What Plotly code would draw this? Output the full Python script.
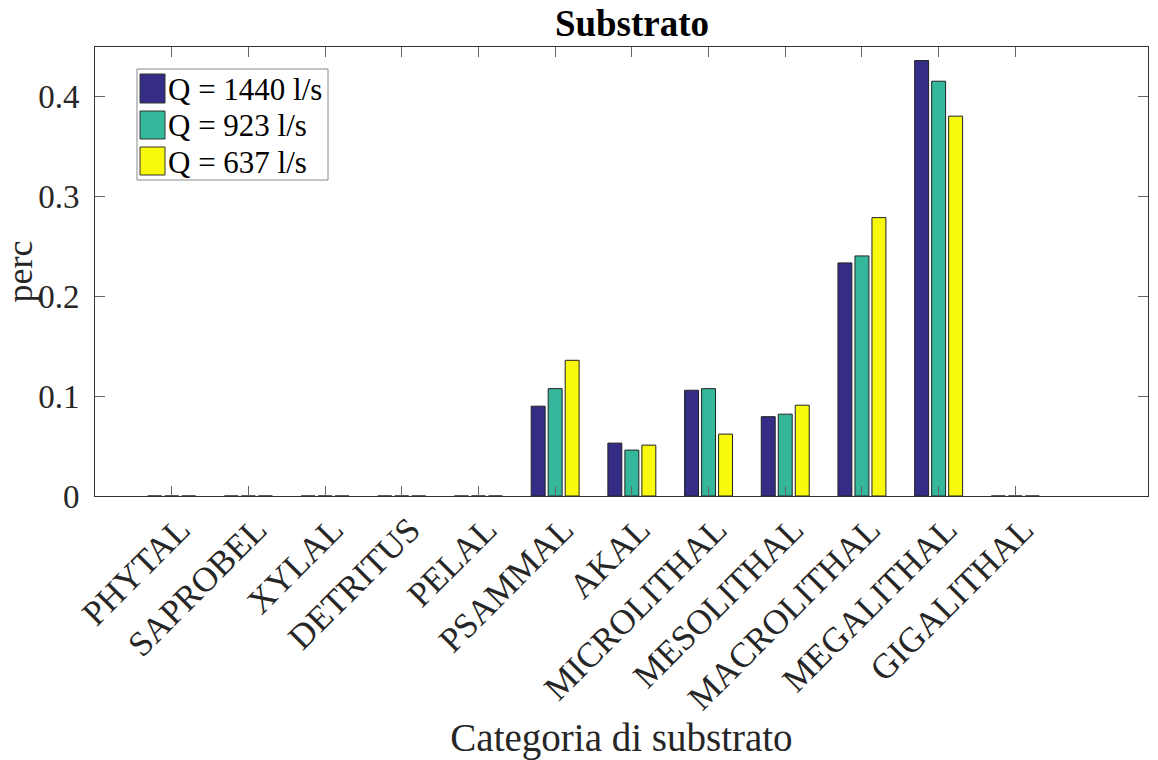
import plotly.graph_objects as go

categories = ["PHYTAL", "SAPROBEL", "XYLAL", "DETRITUS", "PELAL", "PSAMMAL", "AKAL",
              "MICROLITHAL", "MESOLITHAL", "MACROLITHAL", "MEGALITHAL", "GIGALITHAL"]
q1440 = [0, 0, 0, 0, 0, 0.090, 0.053, 0.106, 0.0795, 0.2336, 0.4364, 0]
q923 = [0, 0, 0, 0, 0, 0.1076, 0.046, 0.1076, 0.082, 0.2406, 0.4157, 0]
q637 = [0, 0, 0, 0, 0, 0.136, 0.051, 0.062, 0.091, 0.279, 0.3807, 0]
series_names = ["Q = 1440 l/s", "Q = 923 l/s", "Q = 637 l/s"]
colors = ["#352d85", "#35b79b", "#f8f90d"]
yticks = [0, 0.1, 0.2, 0.3, 0.4]
yticklabels = ["0", "0.1", "0.2", "0.3", "0.4"]

W, H = 1158, 760
L, R, T, B = 95, 10, 47, 264
PW, PH = W - L - R, H - T - B

def xp(px):
    return (px - L) / PW

def yp(py):
    return (H - B - py) / PH

x = list(range(1, len(categories) + 1))
fig = go.Figure()
for name, vals, c in zip(series_names, [q1440, q923, q637], colors):
    fig.add_trace(go.Bar(x=x, y=vals, name=name, showlegend=False,
                         marker=dict(color=c, line=dict(color="#222222", width=1))))

font = "Liberation Serif, Times New Roman, serif"

# legend drawn as a boxed key in the upper-left corner
shapes = [dict(type="rect", xref="paper", yref="paper", x0=xp(137), x1=xp(328), y0=yp(180), y1=yp(69),
               line=dict(color="#888888", width=1), fillcolor="white", layer="above")]
annotations = []
rows = [(74, 103), (111, 139), (147, 175)]
for (t, b), name, c in zip(rows, series_names, colors):
    shapes.append(dict(type="rect", xref="paper", yref="paper", x0=xp(140), x1=xp(165), y0=yp(b), y1=yp(t),
                       line=dict(color="#333333", width=1), fillcolor=c, layer="above"))
    annotations.append(dict(xref="paper", yref="paper", x=xp(166), y=yp((t + b) / 2 + 1), text=name,
                            showarrow=False, xanchor="left", yanchor="middle",
                            font=dict(size=31, family=font, color="#000000")))

fig.update_layout(
    width=W, height=H,
    margin=dict(l=L, r=R, t=T, b=B),
    paper_bgcolor="white", plot_bgcolor="white",
    barmode="group", bargap=0.335, bargroupgap=0.18,
    font=dict(family=font, color="#262626"),
    title=dict(text="<b>Substrato</b>", x=xp(632), xanchor="center", xref="paper",
               y=1 - 23 / H, yanchor="middle",
               font=dict(size=37, color="#000000", family=font)),
    showlegend=False,
    shapes=shapes, annotations=annotations,
    xaxis=dict(range=[0, 13.73], tickmode="array", tickvals=x, ticktext=categories,
               tickangle=-45, ticks="inside", ticklen=10, tickcolor="#666666",
               showline=True, linecolor="#333333", linewidth=1, mirror="ticks",
               showgrid=False, zeroline=False, automargin=False,
               ticklabelshift=8, ticklabelstandoff=-2,
               tickfont=dict(size=35, family=font, color="#262626"),
               title=dict(text="Categoria di substrato", font=dict(size=39, family=font, color="#262626"), standoff=14)),
    yaxis=dict(range=[0, 0.45], tickmode="array", tickvals=yticks, ticktext=yticklabels,
               ticks="inside", ticklen=10, tickcolor="#666666",
               showline=True, linecolor="#333333", linewidth=1, mirror="ticks",
               showgrid=False, zeroline=False, automargin=False,
               ticklabelstandoff=8,
               tickfont=dict(size=33, family=font, color="#262626"),
               title=dict(text="perc", font=dict(size=36, family=font, color="#262626"), standoff=18)),
)
fig.write_html("out.html", config={"displayModeBar": False},
               post_script="document.body.style.margin='0';")
